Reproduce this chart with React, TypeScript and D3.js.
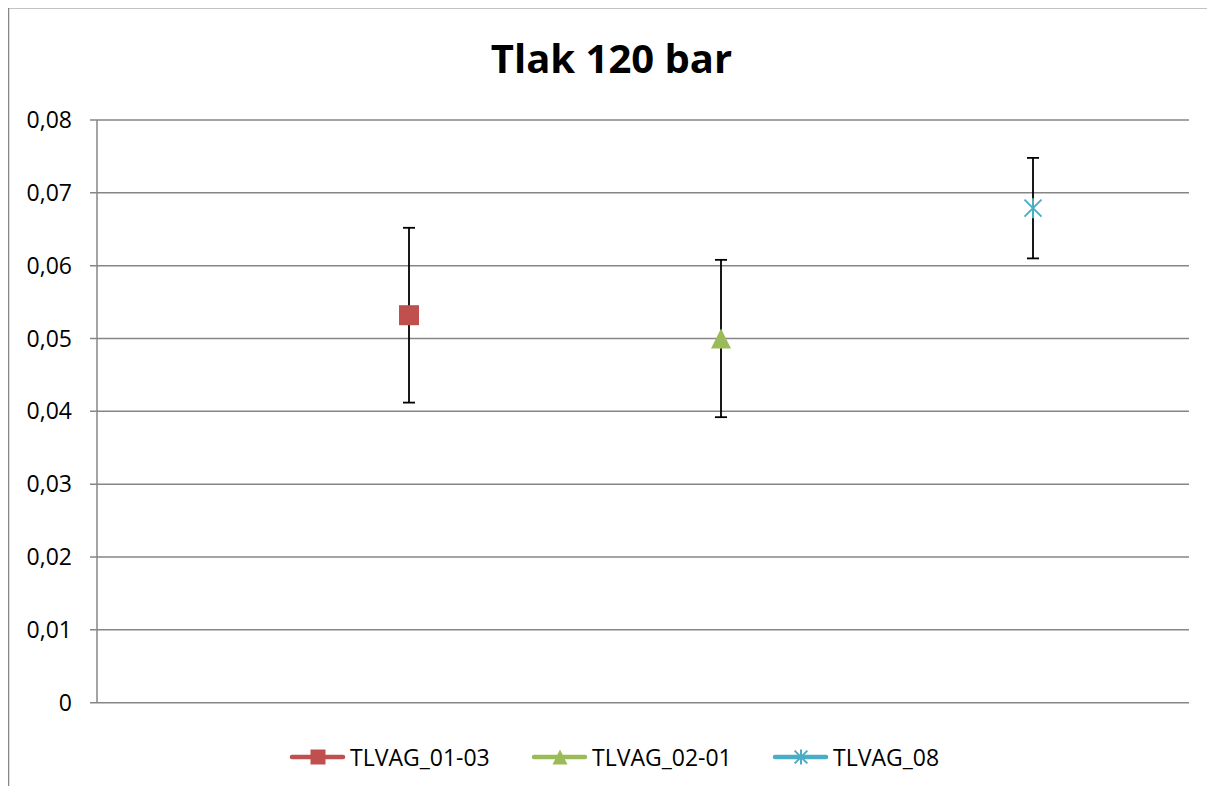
import React from "react";
import * as d3 from "d3";

const title = "Tlak 120 bar";
const seriesNames = ["TLVAG_01-03", "TLVAG_02-01", "TLVAG_08"];
const seriesX = [1, 2, 3];
const seriesValues = [0.0532, 0.05, 0.0679];
const seriesErrors = [0.012, 0.0108, 0.0069];
const seriesColors = ["#C0504D", "#9BBB59", "#4BACC6"];
const seriesMarkers = ["square", "triangle", "star"];
const yTicks = [0, 0.01, 0.02, 0.03, 0.04, 0.05, 0.06, 0.07, 0.08];
const legendStarts = [290, 532, 773];

const fmt = (v: number) => (v === 0 ? "0" : v.toFixed(2).replace(".", ","));

function Marker({ type, cx, cy, color, size }: { type: string; cx: number; cy: number; color: string; size: number }) {
  const h = size / 2;
  if (type === "square") {
    return <rect x={cx - h} y={cy - h} width={size} height={size} fill={color} />;
  }
  if (type === "triangle") {
    return (
      <path
        d={`M${cx},${cy - h} L${cx + h},${cy + h} L${cx - h},${cy + h} Z`}
        fill={color}
      />
    );
  }
  const r = h * 0.85;
  return (
    <g stroke={color} strokeWidth={2}>
      <line x1={cx - r} y1={cy - r} x2={cx + r} y2={cy + r} />
      <line x1={cx - r} y1={cy + r} x2={cx + r} y2={cy - r} />
      <line x1={cx} y1={cy - h} x2={cx} y2={cy + h} />
    </g>
  );
}

export default function App() {
  const left = 97;
  const right = 1189;
  const top = 120;
  const bottom = 702.7;
  const x = d3.scaleLinear().domain([0, 3.5]).range([left, right]);
  const y = d3.scaleLinear().domain([0, 0.08]).range([bottom, top]);
  const font = "'Open Sans', sans-serif";
  const grid = "#868686";

  return (
    <svg width={1207} height={778} style={{ display: "block" }}>
      <g transform="translate(-8,-8)">
        <rect x={0} y={0} width={1300} height={900} fill="#fff" />
        <line x1={8.5} y1={7.75} x2={1300} y2={7.75} stroke={grid} strokeWidth={1.5} />
        <line x1={8.5} y1={7.75} x2={8.5} y2={900} stroke={grid} strokeWidth={1.5} />
        <text x={611.5} y={73} textAnchor="middle" fontFamily={font} fontWeight="bold" fontSize={40} fill="#000">
          {title}
        </text>
        {yTicks.map((t) => (
          <g key={t}>
            <line x1={90} x2={right} y1={y(t)} y2={y(t)} stroke={grid} strokeWidth={1.5} />
            <text x={72} y={y(t)} dy="0.35em" textAnchor="end" fontFamily={font} fontSize={23} fill="#000">
              {fmt(t)}
            </text>
          </g>
        ))}
        <line x1={left} x2={left} y1={top} y2={bottom} stroke={grid} strokeWidth={1.5} />
        {seriesNames.map((name, i) => {
          const cx = x(seriesX[i]);
          const yt = y(seriesValues[i] + seriesErrors[i]);
          const yb = y(seriesValues[i] - seriesErrors[i]);
          return (
            <g key={name}>
              <g stroke="#000" strokeWidth={1.8}>
                <line x1={cx} x2={cx} y1={yt} y2={yb} />
                <line x1={cx - 6} x2={cx + 6} y1={yt} y2={yt} />
                <line x1={cx - 6} x2={cx + 6} y1={yb} y2={yb} />
              </g>
              <Marker type={seriesMarkers[i]} cx={cx} cy={y(seriesValues[i])} color={seriesColors[i]} size={20} />
            </g>
          );
        })}
        {seriesNames.map((name, i) => {
          const sx = legendStarts[i];
          const ly = 757;
          return (
            <g key={"lg" + name}>
              <line x1={sx + 2} x2={sx + 53} y1={ly} y2={ly} stroke={seriesColors[i]} strokeWidth={4.5} strokeLinecap="round" />
              <Marker type={seriesMarkers[i]} cx={sx + 28} cy={ly} color={seriesColors[i]} size={15} />
              <text x={sx + 60} y={766} fontFamily={font} fontSize={23} fill="#000">
                {name}
              </text>
            </g>
          );
        })}
      </g>
    </svg>
  );
}
